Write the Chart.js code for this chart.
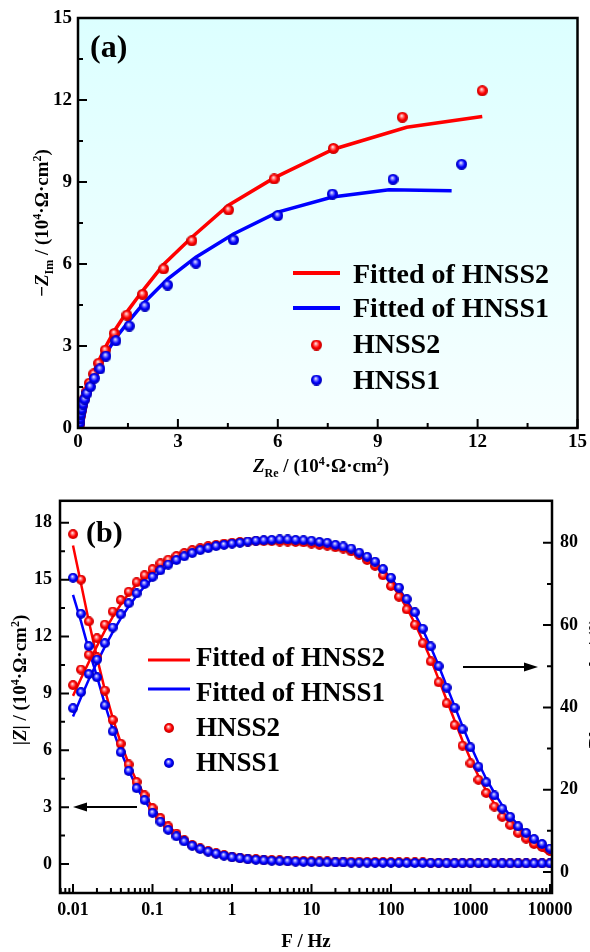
<!DOCTYPE html>
<html>
<head>
<meta charset="utf-8">
<script src="https://cdn.jsdelivr.net/npm/chart.js@4.4.1/dist/chart.umd.min.js"></script>
<style>
  html, body { margin: 0; padding: 0; background: #fff; overflow: hidden; width: 590px; height: 952px; }
  canvas { position: absolute; left: 0; }
  #nyquist { top: 0; }
  #bode { top: 482px; }
</style>
</head>
<body>
<canvas id="nyquist" width="590" height="482"></canvas>
<canvas id="bode" width="590" height="470"></canvas>
<script>
const SERIF = "'Liberation Serif', 'Times New Roman', serif";
const RED = "#ff0000";
const BLUE = "#0000ff";
const OFF = 482; // page y of the second canvas

// ---- (a) Nyquist, units 10^4 ohm cm2 ----
const hnss2Re = [0.04, 0.05, 0.07, 0.10, 0.14, 0.19, 0.26, 0.34, 0.47, 0.62, 0.82, 1.09, 1.47, 1.94, 2.57, 3.42, 4.52, 5.89, 7.67, 9.74, 12.14];
const hnss2Im = [0.12, 0.27, 0.44, 0.63, 0.84, 1.06, 1.33, 1.64, 1.98, 2.37, 2.85, 3.46, 4.13, 4.89, 5.82, 6.85, 7.98, 9.11, 10.23, 11.37, 12.34];
const hnss1Re = [0.04, 0.06, 0.08, 0.11, 0.15, 0.20, 0.27, 0.37, 0.49, 0.66, 0.84, 1.14, 1.54, 2.01, 2.69, 3.54, 4.67, 6.00, 7.64, 9.46, 11.52];
const hnss1Im = [0.17, 0.34, 0.51, 0.68, 0.87, 1.05, 1.27, 1.51, 1.82, 2.16, 2.63, 3.19, 3.73, 4.46, 5.23, 6.03, 6.88, 7.77, 8.56, 9.10, 9.65];
const fit2Re = [0, 0.04, 0.07, 0.10, 0.14, 0.19, 0.26, 0.34, 0.47, 0.62, 0.82, 1.09, 1.47, 1.94, 2.57, 3.42, 4.52, 5.89, 7.67, 9.87, 12.14];
const fit2Im = [0, 0.14, 0.32, 0.55, 0.78, 1.03, 1.34, 1.66, 2.05, 2.45, 2.95, 3.55, 4.25, 5.02, 5.98, 6.98, 8.15, 9.15, 10.2, 11.0, 11.4];
const fit1Re = [0, 0.04, 0.06, 0.08, 0.11, 0.15, 0.20, 0.27, 0.37, 0.49, 0.66, 0.84, 1.14, 1.54, 2.01, 2.69, 3.54, 4.67, 6.00, 7.64, 9.34, 11.22];
const fit1Im = [0, 0.20, 0.37, 0.54, 0.72, 0.90, 1.10, 1.33, 1.60, 1.90, 2.28, 2.72, 3.30, 3.93, 4.62, 5.45, 6.25, 7.10, 7.90, 8.45, 8.72, 8.68];
const nyqTicks = [0, 3, 6, 9, 12, 15];

// ---- (b) Bode ----
const freq = [0.01, 0.0126, 0.0158, 0.02, 0.0251, 0.0316, 0.0398, 0.0501, 0.0631, 0.0794,
  0.1, 0.126, 0.158, 0.2, 0.251, 0.316, 0.398, 0.501, 0.631, 0.794,
  1, 1.26, 1.58, 2, 2.51, 3.16, 3.98, 5.01, 6.31, 7.94,
  10, 12.6, 15.8, 20, 25.1, 31.6, 39.8, 50.1, 63.1, 79.4,
  100, 126, 158, 200, 251, 316, 398, 501, 631, 794,
  1000, 1260, 1580, 2000, 2510, 3160, 3980, 5010, 6310, 7940, 10000];
const modZ2 = [17.4, 15.0, 12.8, 10.9, 9.15, 7.6, 6.35, 5.25, 4.33, 3.62,
  2.95, 2.42, 1.98, 1.6, 1.25, 1.0, 0.82, 0.68, 0.56, 0.47,
  0.39, 0.33, 0.29, 0.26, 0.23, 0.21, 0.19, 0.18, 0.17, 0.16,
  0.15, 0.14, 0.14, 0.13, 0.13, 0.12, 0.12, 0.11, 0.11, 0.10,
  0.10, 0.09, 0.09, 0.08, 0.08, 0.07, 0.07, 0.07, 0.06, 0.06,
  0.06, 0.05, 0.05, 0.05, 0.05, 0.04, 0.04, 0.04, 0.04, 0.04, 0.04];
const modZ1 = [15.1, 13.2, 11.5, 9.85, 8.37, 7.0, 5.9, 4.91, 4.0, 3.37,
  2.7, 2.23, 1.8, 1.46, 1.19, 0.96, 0.79, 0.65, 0.55, 0.44,
  0.35, 0.30, 0.25, 0.22, 0.19, 0.17, 0.15, 0.14, 0.12, 0.11,
  0.10, 0.09, 0.09, 0.08, 0.08, 0.07, 0.07, 0.07, 0.06, 0.06,
  0.06, 0.06, 0.05, 0.05, 0.05, 0.05, 0.05, 0.04, 0.04, 0.04,
  0.04, 0.04, 0.04, 0.04, 0.03, 0.03, 0.03, 0.03, 0.03, 0.03, 0.03];
const modZFit2 = [16.8, 14.8, 12.8, 10.9, 9.2, 7.7, 6.4, 5.3, 4.38, 3.62,
  2.98, 2.44, 2.0, 1.62, 1.3, 1.04, 0.84, 0.69, 0.57, 0.47,
  0.39, 0.33, 0.29, 0.26, 0.23, 0.21, 0.19, 0.18, 0.17, 0.16,
  0.15, 0.14, 0.14, 0.13, 0.13, 0.12, 0.12, 0.11, 0.11, 0.10,
  0.10, 0.09, 0.09, 0.08, 0.08, 0.07, 0.07, 0.07, 0.06, 0.06,
  0.06, 0.05, 0.05, 0.05, 0.05, 0.04, 0.04, 0.04, 0.04, 0.04, 0.04];
const modZFit1 = [14.2, 12.8, 11.3, 9.9, 8.45, 7.1, 5.95, 4.95, 4.05, 3.35,
  2.74, 2.24, 1.82, 1.47, 1.19, 0.97, 0.79, 0.65, 0.54, 0.44,
  0.36, 0.30, 0.25, 0.22, 0.19, 0.17, 0.15, 0.14, 0.12, 0.11,
  0.10, 0.09, 0.09, 0.08, 0.08, 0.07, 0.07, 0.07, 0.06, 0.06,
  0.06, 0.06, 0.05, 0.05, 0.05, 0.05, 0.05, 0.04, 0.04, 0.04,
  0.04, 0.04, 0.04, 0.04, 0.03, 0.03, 0.03, 0.03, 0.03, 0.03, 0.03];
const phase2 = [45.4, 49.2, 52.8, 56.8, 60.1, 63.3, 66.1, 68.1, 70.4, 72.1,
  73.6, 75.0, 75.9, 76.8, 77.5, 78.2, 78.7, 79.2, 79.5, 79.8,
  80.0, 80.2, 80.3, 80.4, 80.4, 80.4, 80.3, 80.3, 80.2, 80.1,
  79.8, 79.5, 79.3, 78.9, 78.6, 77.9, 77.0, 75.8, 74.4, 72.1,
  69.5, 66.9, 63.8, 60.1, 55.6, 51.2, 46.1, 41.0, 35.7, 30.7,
  26.4, 22.4, 19.2, 15.9, 13.4, 11.4, 9.5, 8.1, 6.8, 6.1, 5.1];
const phase1 = [39.8, 43.7, 48.1, 51.6, 55.6, 59.4, 62.6, 65.3, 67.7, 70.0,
  71.7, 73.3, 74.7, 75.8, 76.7, 77.5, 78.2, 78.7, 79.2, 79.5,
  79.8, 80.0, 80.3, 80.5, 80.6, 80.7, 80.8, 80.8, 80.7, 80.6,
  80.5, 80.2, 80.0, 79.5, 79.1, 78.6, 77.6, 76.6, 75.4, 73.6,
  71.5, 69.1, 66.3, 63.1, 59.1, 54.8, 50.0, 44.8, 39.9, 34.7,
  30.3, 25.6, 21.8, 18.6, 15.4, 13.4, 11.1, 9.5, 8.0, 6.8, 5.7];
const phaseFit2 = [42.8, 47.0, 51.0, 54.9, 58.6, 62.0, 65.0, 67.6, 69.9, 71.8,
  73.4, 74.8, 76.0, 77.0, 77.8, 78.5, 79.0, 79.4, 79.7, 80.0,
  80.1, 80.2, 80.3, 80.3, 80.3, 80.3, 80.2, 80.1, 80.0, 79.8,
  79.6, 79.4, 79.1, 78.8, 78.3, 77.7, 77.1, 76.0, 74.6, 72.6,
  70.1, 67.3, 64.1, 60.4, 56.2, 51.7, 46.8, 41.8, 36.8, 31.9,
  27.4, 23.3, 19.7, 16.6, 14.0, 11.8, 9.6, 8.0, 6.6, 5.4, 4.2];
const phaseFit1 = [37.8, 42.4, 46.8, 50.9, 54.7, 58.3, 61.6, 64.5, 67.1, 69.4,
  71.3, 72.9, 74.4, 75.6, 76.6, 77.5, 78.2, 78.8, 79.3, 79.7,
  80.0, 80.3, 80.5, 80.6, 80.7, 80.8, 80.8, 80.8, 80.7, 80.6,
  80.4, 80.1, 79.8, 79.4, 78.9, 78.3, 77.5, 76.5, 75.2, 73.5,
  71.4, 68.9, 66.0, 62.7, 58.9, 54.7, 50.1, 45.2, 40.3, 35.4,
  30.8, 26.5, 22.6, 19.2, 16.2, 13.6, 11.4, 9.6, 8.0, 6.7, 5.5];
const freqTicks = [0.01, 0.1, 1, 10, 100, 1000, 10000];
const modZTicks = [0, 3, 6, 9, 12, 15, 18];
const phaseTicks = [0, 20, 40, 60, 80];

const zip = (xs, ys) => xs.map((x, i) => ({ x: x, y: ys[i] }));

// shaded ball used as marker
function sphere(base, light, dark, d) {
  const c = document.createElement("canvas");
  c.width = c.height = d;
  const g = c.getContext("2d");
  const r = d / 2;
  const grad = g.createRadialGradient(r * 0.85, r * 0.7, 0, r, r, r);
  grad.addColorStop(0, "#ffffff");
  grad.addColorStop(0.28, light);
  grad.addColorStop(0.62, base);
  grad.addColorStop(1, dark);
  g.fillStyle = grad;
  g.beginPath();
  g.arc(r, r, r, 0, Math.PI * 2);
  g.fill();
  return c;
}
const ballRedA = sphere(RED, "#ff8080", "#c00000", 11);
const ballBlueA = sphere(BLUE, "#8080ff", "#0000b0", 11);
const ballRedB = sphere(RED, "#ff8080", "#c00000", 10);
const ballBlueB = sphere(BLUE, "#8080ff", "#0000b0", 10);

// text with sub/superscripts, y is the visual centre
function richText(ctx, segs, x, y, size, vertical, align) {
  ctx.save();
  ctx.translate(x, y);
  if (vertical) ctx.rotate(-Math.PI / 2);
  ctx.fillStyle = "#000";
  ctx.textBaseline = "alphabetic";
  const fontOf = s => (s.i ? "italic " : "") + "bold " + (s.s ? Math.round(size * 0.62) : size) + "px " + SERIF;
  let total = 0;
  segs.forEach(s => { ctx.font = fontOf(s); s.w = ctx.measureText(s.t).width; total += s.w; });
  let cx = align === "left" ? 0 : -total / 2;
  segs.forEach(s => {
    ctx.font = fontOf(s);
    const dy = s.s === "sup" ? -size * 0.38 : s.s === "sub" ? size * 0.24 : 0;
    ctx.fillText(s.t, cx, size * 0.34 + dy);
    cx += s.w;
  });
  ctx.restore();
}

function tickMarks(ctx, scale, values, len) {
  const a = scale.chart.chartArea;
  ctx.beginPath();
  values.forEach(v => {
    const p = scale.getPixelForValue(v);
    if (scale.position === "bottom") { ctx.moveTo(p, a.bottom); ctx.lineTo(p, a.bottom - len); }
    else if (scale.position === "left") { ctx.moveTo(a.left, p); ctx.lineTo(a.left + len, p); }
    else { ctx.moveTo(a.right, p); ctx.lineTo(a.right - len, p); }
  });
  ctx.stroke();
}

function arrow(ctx, x1, y, x2) {
  const dir = Math.sign(x2 - x1);
  ctx.save();
  ctx.strokeStyle = "#000";
  ctx.fillStyle = "#000";
  ctx.lineWidth = 2;
  ctx.beginPath();
  ctx.moveTo(x1, y);
  ctx.lineTo(x2 - dir * 10, y);
  ctx.stroke();
  ctx.beginPath();
  ctx.moveTo(x2, y);
  ctx.lineTo(x2 - dir * 14, y - 4.5);
  ctx.lineTo(x2 - dir * 14, y + 4.5);
  ctx.closePath();
  ctx.fill();
  ctx.restore();
}

function drawLegend(ctx, items, lineX1, lineX2, textX, size) {
  ctx.save();
  ctx.font = "bold " + size + "px " + SERIF;
  ctx.fillStyle = "#000";
  ctx.textBaseline = "alphabetic";
  items.forEach(it => {
    if (it.ball) {
      const b = it.ball;
      ctx.drawImage(b, (lineX1 + lineX2) / 2 - b.width / 2, it.my - b.height / 2);
    } else {
      ctx.strokeStyle = it.color;
      ctx.lineWidth = it.lw;
      ctx.beginPath();
      ctx.moveTo(lineX1, it.my);
      ctx.lineTo(lineX2, it.my);
      ctx.stroke();
    }
    ctx.fillText(it.text, textX, it.base);
  });
  ctx.restore();
}

const tickFont = size => ({ family: SERIF, size: size, weight: "bold" });
const fixTicks = vals => scale => { scale.ticks = vals.map(v => ({ value: v })); };

// ---------- (a) ----------
const panelA = {
  id: "panelA",
  beforeDatasetsDraw(chart) {
    const ctx = chart.ctx, a = chart.chartArea;
    const g = ctx.createLinearGradient(0, a.top, 0, a.bottom);
    g.addColorStop(0, "#dcffff");
    g.addColorStop(1, "#f6ffff");
    ctx.save();
    ctx.fillStyle = g;
    ctx.fillRect(a.left, a.top, a.right - a.left, a.bottom - a.top);
    ctx.restore();
  },
  afterDraw(chart) {
    const ctx = chart.ctx, a = chart.chartArea;
    ctx.save();
    ctx.strokeStyle = "#000";
    ctx.lineWidth = 2.5;
    ctx.strokeRect(a.left, a.top, a.right - a.left, a.bottom - a.top);
    ctx.lineWidth = 2;
    tickMarks(ctx, chart.scales.x, nyqTicks, 9);
    tickMarks(ctx, chart.scales.x, [1.5, 4.5, 7.5, 10.5, 13.5], 5);
    tickMarks(ctx, chart.scales.y, nyqTicks, 9);
    tickMarks(ctx, chart.scales.y, [1.5, 4.5, 7.5, 10.5, 13.5], 5);
    ctx.restore();

    richText(ctx, [{ t: "Z", i: true }, { t: "Re", s: "sub" }, { t: " / (10" }, { t: "4", s: "sup" },
      { t: "·Ω·cm" }, { t: "2", s: "sup" }, { t: ")" }], 253, 466, 19, false, "left");
    richText(ctx, [{ t: "−" }, { t: "Z", i: true }, { t: "Im", s: "sub" }, { t: " / (10" }, { t: "4", s: "sup" },
      { t: "·Ω·cm" }, { t: "2", s: "sup" }, { t: ")" }], 42, 223, 19, true);

    ctx.save();
    ctx.font = "bold 32px " + SERIF;
    ctx.fillStyle = "#000";
    ctx.fillText("(a)", 90, 57);
    ctx.restore();

    drawLegend(ctx, [
      { text: "Fitted of HNSS2", color: RED, lw: 4, my: 273, base: 283 },
      { text: "Fitted of HNSS1", color: BLUE, lw: 4, my: 308, base: 317 },
      { text: "HNSS2", ball: ballRedA, my: 345, base: 353 },
      { text: "HNSS1", ball: ballBlueA, my: 380, base: 389 }
    ], 293, 340, 353, 28);
  }
};

new Chart(document.getElementById("nyquist"), {
  type: "scatter",
  data: {
    datasets: [
      { label: "Fitted of HNSS2", data: zip(fit2Re, fit2Im), showLine: true, borderColor: RED, borderWidth: 3.5, pointRadius: 0, order: 4 },
      { label: "Fitted of HNSS1", data: zip(fit1Re, fit1Im), showLine: true, borderColor: BLUE, borderWidth: 3.5, pointRadius: 0, order: 3 },
      { label: "HNSS2", data: zip(hnss2Re, hnss2Im), pointStyle: ballRedA, pointRadius: 5.5, order: 2 },
      { label: "HNSS1", data: zip(hnss1Re, hnss1Im), pointStyle: ballBlueA, pointRadius: 5.5, order: 1 }
    ]
  },
  options: {
    responsive: false,
    animation: false,
    devicePixelRatio: 1,
    layout: { padding: { top: 18, right: 12, left: 0, bottom: 0 } },
    plugins: { legend: { display: false }, tooltip: { enabled: false } },
    scales: {
      x: {
        type: "linear", min: 0, max: 15,
        afterBuildTicks: fixTicks(nyqTicks),
        afterFit: s => { s.height = 54; },
        grid: { display: false, drawTicks: false },
        border: { display: false },
        ticks: { font: tickFont(19), color: "#000", padding: 3, maxRotation: 0, autoSkip: false }
      },
      y: {
        type: "linear", min: 0, max: 15,
        afterBuildTicks: fixTicks(nyqTicks),
        afterFit: s => { s.width = 78; },
        grid: { display: false, drawTicks: false },
        border: { display: false },
        ticks: { font: tickFont(19), color: "#000", padding: 6, autoSkip: false }
      }
    }
  },
  plugins: [panelA]
});

// ---------- (b) ----------
const panelB = {
  id: "panelB",
  afterDraw(chart) {
    const ctx = chart.ctx, a = chart.chartArea;
    const x = chart.scales.x;
    const minors = [];
    [0.001, 0.01, 0.1, 1, 10, 100, 1000, 10000].forEach(d => {
      for (let m = 2; m <= 9; m++) {
        const v = m * d;
        if (v > x.min && v < x.max) minors.push(v);
      }
    });
    ctx.save();
    ctx.strokeStyle = "#000";
    ctx.lineWidth = 2.5;
    ctx.strokeRect(a.left, a.top, a.right - a.left, a.bottom - a.top);
    ctx.lineWidth = 2;
    tickMarks(ctx, x, freqTicks, 9);
    tickMarks(ctx, x, minors, 5);
    tickMarks(ctx, chart.scales.y, modZTicks, 9);
    tickMarks(ctx, chart.scales.y, [1.5, 4.5, 7.5, 10.5, 13.5, 16.5], 5);
    tickMarks(ctx, chart.scales.y2, phaseTicks, 9);
    tickMarks(ctx, chart.scales.y2, [10, 30, 50, 70], 5);
    ctx.restore();

    arrow(ctx, 137, 807 - OFF, 73);
    arrow(ctx, 463, 667 - OFF, 538);

    richText(ctx, [{ t: "|" }, { t: "Z", i: true }, { t: "| / (10" }, { t: "4", s: "sup" },
      { t: "·Ω·cm" }, { t: "2", s: "sup" }, { t: ")" }], 20, 680 - OFF, 19, true);
    richText(ctx, [{ t: "F / Hz" }], 306, 941 - OFF, 19, false);

    // right axis title, mostly clipped by the page edge
    ctx.save();
    ctx.translate(588, 683 - OFF);
    ctx.rotate(-Math.PI / 2);
    ctx.font = "bold 19px " + SERIF;
    ctx.fillStyle = "#000";
    ctx.textAlign = "center";
    ctx.textBaseline = "top";
    ctx.fillText("Phase angle / (°)", 0, 0);
    ctx.restore();

    ctx.save();
    ctx.font = "bold 30px " + SERIF;
    ctx.fillStyle = "#000";
    ctx.fillText("(b)", 86, 542 - OFF);
    ctx.restore();

    drawLegend(ctx, [
      { text: "Fitted of HNSS2", color: RED, lw: 3, my: 660 - OFF, base: 666 - OFF },
      { text: "Fitted of HNSS1", color: BLUE, lw: 3, my: 689 - OFF, base: 701 - OFF },
      { text: "HNSS2", ball: ballRedB, my: 728 - OFF, base: 736 - OFF },
      { text: "HNSS1", ball: ballBlueB, my: 763 - OFF, base: 771 - OFF }
    ], 148, 190, 196, 27);
  }
};

const line = (label, ys, color, axis, order) => ({
  label: label, data: zip(freq, ys), yAxisID: axis, showLine: true,
  borderColor: color, borderWidth: 2.5, pointRadius: 0, order: order
});
const dots = (label, ys, ball, axis, order) => ({
  label: label, data: zip(freq, ys), yAxisID: axis, pointStyle: ball, pointRadius: 5, order: order
});

new Chart(document.getElementById("bode"), {
  type: "scatter",
  data: {
    datasets: [
      line("Fitted of HNSS2", modZFit2, RED, "y", 8),
      line("Fitted of HNSS1", modZFit1, BLUE, "y", 7),
      line("Fitted of HNSS2 phase", phaseFit2, RED, "y2", 6),
      line("Fitted of HNSS1 phase", phaseFit1, BLUE, "y2", 5),
      dots("HNSS2", modZ2, ballRedB, "y", 4),
      dots("HNSS2 phase", phase2, ballRedB, "y2", 3),
      dots("HNSS1", modZ1, ballBlueB, "y", 2),
      dots("HNSS1 phase", phase1, ballBlueB, "y2", 1)
    ]
  },
  options: {
    responsive: false,
    animation: false,
    devicePixelRatio: 1,
    layout: { padding: { top: 18, right: 0, left: 0, bottom: 0 } },
    plugins: { legend: { display: false }, tooltip: { enabled: false } },
    scales: {
      x: {
        type: "logarithmic", min: 0.00686, max: 10600,
        afterBuildTicks: fixTicks(freqTicks),
        afterFit: s => { s.height = 59; },
        grid: { display: false, drawTicks: false },
        border: { display: false },
        ticks: { font: tickFont(18), color: "#000", padding: 7, maxRotation: 0, autoSkip: false,
                 callback: v => String(v) }
      },
      y: {
        type: "linear", position: "left", min: -1.53, max: 19.16,
        afterBuildTicks: fixTicks(modZTicks),
        afterFit: s => { s.width = 60; },
        grid: { display: false, drawTicks: false },
        border: { display: false },
        ticks: { font: tickFont(18), color: "#000", padding: 8, autoSkip: false }
      },
      y2: {
        type: "linear", position: "right", min: -5.1, max: 90.2,
        afterBuildTicks: fixTicks(phaseTicks),
        afterFit: s => { s.width = 38; },
        grid: { display: false, drawTicks: false },
        border: { display: false },
        ticks: { font: tickFont(18), color: "#000", padding: 8, autoSkip: false }
      }
    }
  },
  plugins: [panelB]
});
</script>
</body>
</html>
